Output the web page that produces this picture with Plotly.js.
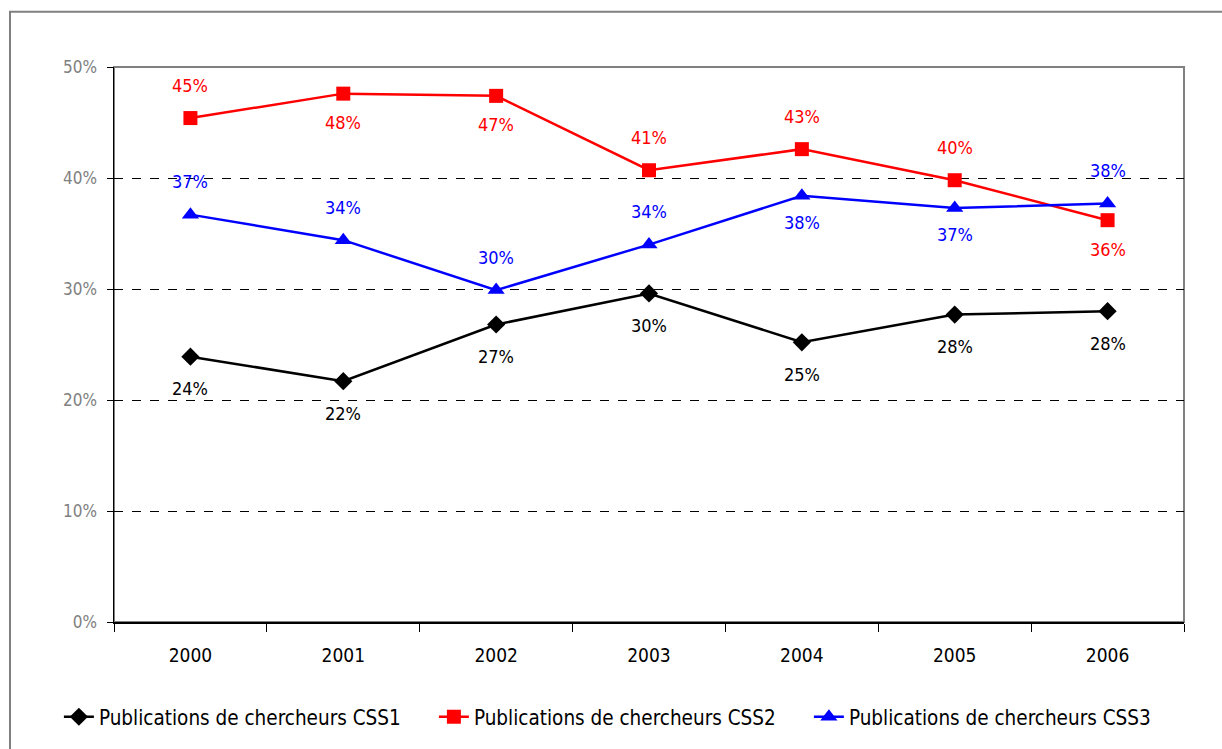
<!DOCTYPE html>
<html>
<head>
<meta charset="utf-8">
<script src="https://cdn.plot.ly/plotly-3.0.1.min.js"></script>
<style>
  html, body { margin: 0; padding: 0; background: #ffffff; }
  #chart { width: 1222px; height: 749px; }
</style>
</head>
<body>
<div id="chart"></div>
<script>
// ---- data ----
const years = ['2000', '2001', '2002', '2003', '2004', '2005', '2006'];
const seriesNames = [
  'Publications de chercheurs CSS1',
  'Publications de chercheurs CSS2',
  'Publications de chercheurs CSS3'
];
const css1 = [23.9, 21.7, 26.8, 29.6, 25.2, 27.7, 28.0];
const css2 = [45.4, 47.6, 47.4, 40.7, 42.6, 39.8, 36.2];
const css3 = [36.7, 34.4, 29.9, 34.0, 38.4, 37.3, 37.7];
// label placement relative to the point: 'a' above, 'b' below
const css1Pos = ['b', 'b', 'b', 'b', 'b', 'b', 'b'];
const css2Pos = ['a', 'b', 'b', 'a', 'a', 'a', 'b'];
const css3Pos = ['a', 'a', 'a', 'a', 'b', 'b', 'a'];
const yTicks = [0, 10, 20, 30, 40, 50];

// ---- styles ----
const FONT = 'DejaVu Sans Condensed, Liberation Sans Narrow, Liberation Sans, Arial, sans-serif';
const colors = ['#000000', '#ff0000', '#0000ff'];
const symbols = ['diamond', 'square', 'triangle-up'];
const sizes = [14, 14, 15];
const belowShift = [-32, -29, -27];
const allValues = [css1, css2, css3];
const allPos = [css1Pos, css2Pos, css3Pos];

const traces = allValues.map((vals, i) => ({
  type: 'scatter',
  mode: 'lines+markers',
  name: seriesNames[i],
  x: years,
  y: vals,
  line: { color: colors[i], width: 2.5 },
  marker: { color: colors[i], symbol: symbols[i], size: sizes[i] },
  hoverinfo: 'skip'
}));

const annotations = [];
allValues.forEach((vals, i) => {
  vals.forEach((v, j) => {
    annotations.push({
      x: j, y: v, xref: 'x', yref: 'y',   // category index of years[j]
      text: Math.round(v) + '%',
      showarrow: false,
      yshift: allPos[i][j] === 'a' ? 33 : belowShift[i],
      font: { family: FONT, size: 18, color: colors[i] }
    });
  });
});

const layout = {
  width: 1222,
  height: 749,
  margin: { l: 114, r: 38, t: 67, b: 127 },
  paper_bgcolor: '#ffffff',
  plot_bgcolor: '#ffffff',
  showlegend: true,
  font: { family: FONT, size: 18, color: '#000000' },
  xaxis: {
    type: 'category',
    categoryorder: 'array',
    categoryarray: years,
    range: [-0.5, years.length - 0.5],
    autorange: false,
    tickson: 'boundaries',
    ticks: 'outside',
    ticklen: 8,
    tickwidth: 1,
    tickcolor: '#000000',
    tickangle: 0,
    showline: true,
    linecolor: '#000000',
    linewidth: 1.5,
    showgrid: false,
    zeroline: false,
    tickfont: { family: FONT, size: 19, color: '#000000' },
    ticklabelstandoff: 16,
    fixedrange: true
  },
  yaxis: {
    range: [0, 50],
    autorange: false,
    tickvals: yTicks,
    ticktext: yTicks.map(t => t + '%'),
    ticks: 'outside',
    ticklen: 6,
    tickwidth: 1,
    tickcolor: '#000000',
    showline: true,
    linecolor: '#000000',
    linewidth: 1.5,
    showgrid: true,
    gridcolor: '#000000',
    griddash: 'dash',
    gridwidth: 1,
    zeroline: false,
    tickfont: { family: FONT, size: 17, color: '#808080' },
    ticklabelstandoff: 6,
    fixedrange: true
  },
  legend: {
    orientation: 'h',
    x: -0.0515,
    xanchor: 'left',
    y: -0.171,
    yanchor: 'middle',
    font: { family: FONT, size: 20.5, color: '#000000' },
    entrywidth: 330,
    entrywidthmode: 'pixels',
    itemclick: false,
    itemdoubleclick: false,
    tracegroupgap: 0
  },
  shapes: [
    // plot area frame (top and right visible in grey)
    { type: 'rect', xref: 'paper', yref: 'paper', x0: 0, x1: 1, y0: 0, y1: 1,
      line: { color: '#808080', width: 2 }, layer: 'below' },
    // outer chart border
    { type: 'rect', xref: 'paper', yref: 'paper', x0: -0.0972, x1: 1.05, y0: -0.26, y1: 1.0995,
      line: { color: '#808080', width: 2 }, layer: 'below' }
  ],
  annotations: annotations
};

Plotly.newPlot('chart', traces, layout, { staticPlot: true, displayModeBar: false });
</script>
</body>
</html>
